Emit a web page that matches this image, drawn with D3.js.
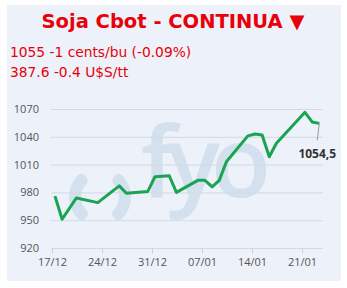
<!DOCTYPE html>
<html>
<head>
<meta charset="utf-8">
<script src="https://cdn.jsdelivr.net/npm/d3@7"></script>
<style>
  body { margin: 0; background: #fff; }
  svg { display: block; }
</style>
</head>
<body>
<div id="chart"></div>
<script>
// Soja Cbot continua - daily close, cents/bu
const dates = ["2018-12-17","2018-12-18","2018-12-20","2018-12-23","2018-12-26","2018-12-27",
  "2018-12-30","2018-12-31","2019-01-02","2019-01-03","2019-01-06","2019-01-07","2019-01-08",
  "2019-01-09","2019-01-10","2019-01-13","2019-01-14","2019-01-15","2019-01-16","2019-01-17",
  "2019-01-21","2019-01-22","2019-01-23"];
const prices = [976, 951, 974, 969, 987, 979, 981, 997, 998, 980, 993, 993, 986,
  993, 1013, 1041, 1043, 1042, 1018.5, 1033, 1066.4, 1056, 1054.5];
const yTicks = [920, 950, 980, 1010, 1040, 1070];
const xTicks = ["2018-12-17","2018-12-24","2018-12-31","2019-01-07","2019-01-14","2019-01-21"];
const title = "Soja Cbot - CONTINUA \u25BC";
const infoLines = ["1055 -1 cents/bu (-0.09%)", "387.6 -0.4 U$S/tt"];
const lastLabel = "1054,5";

const W = 347, H = 288;
const parseDay = d3.timeParse("%Y-%m-%d");
const data = dates.map((d, i) => ({ date: d3.timeHour.offset(parseDay(d), 10), value: prices[i] }));

let svg = d3.select("#chart").append("svg")
  .attr("width", W)
  .attr("height", H);

svg.append("rect").attr("width", W).attr("height", H).attr("fill", "#fff");

// panel
svg.append("rect")
  .attr("x", 7).attr("y", 5)
  .attr("width", 334).attr("height", 276)
  .attr("fill", "#edf1f9");

let plot = { left: 51, right: 323, top: 109, bottom: 248 };

let x = d3.scaleTime()
  .domain([parseDay(xTicks[0]), parseDay(xTicks[xTicks.length - 1])])
  .range([52, 302]);
let y = d3.scaleLinear()
  .domain([920, 1070])
  .range([plot.bottom, plot.top]);

// watermark
let wm = svg.append("g").attr("fill", "#d3e1ee");
let paren = d3.arc().innerRadius(19).outerRadius(31).cornerRadius(5);
wm.append("path")
  .attr("transform", "translate(100,197)")
  .attr("d", paren({ startAngle: -2.55, endAngle: -0.6 }));
wm.append("path")
  .attr("transform", "translate(100,197)")
  .attr("d", paren({ startAngle: 0.6, endAngle: 2.55 }));
wm.append("text")
  .attr("x", 141).attr("y", 197)
  .attr("font-family", "Open Sans")
  .attr("font-weight", 600)
  .attr("font-size", 98)
  .attr("letter-spacing", -9)
  .text("fyo");

// grid
svg.append("g")
  .selectAll("line")
  .data(yTicks)
  .enter().append("line")
    .attr("x1", plot.left).attr("x2", plot.right)
    .attr("y1", d => y(d) + 0.5).attr("y2", d => y(d) + 0.5)
    .attr("stroke", "#d5d9e0");

// y axis labels
svg.append("g")
  .selectAll("text")
  .data(yTicks)
  .enter().append("text")
    .attr("x", 39)
    .attr("y", d => y(d) + 4)
    .attr("text-anchor", "end")
    .attr("font-family", "Open Sans")
    .attr("font-size", 11)
    .attr("fill", "#555")
    .text(d => d);

// x axis
let xAxis = svg.append("g")
  .attr("transform", "translate(0," + (plot.bottom + 0.5) + ")")
  .call(d3.axisBottom(x)
    .tickValues(xTicks.map(parseDay))
    .tickFormat(d3.timeFormat("%d/%m"))
    .tickSize(5)
    .tickPadding(5));
xAxis.select(".domain").remove();
xAxis.selectAll(".tick line").attr("stroke", "#ccd1d9");
xAxis.selectAll(".tick text")
  .attr("font-family", "Open Sans")
  .attr("font-size", 11)
  .attr("fill", "#555");

// price line
let line = d3.line()
  .x(d => x(d.date))
  .y(d => y(d.value));

svg.append("path")
  .datum(data)
  .attr("fill", "none")
  .attr("stroke", "#19a451")
  .attr("stroke-width", 3)
  .attr("stroke-linejoin", "round")
  .attr("d", line);

// last value label
let last = data[data.length - 1];
svg.append("line")
  .attr("x1", x(last.date)).attr("y1", y(last.value))
  .attr("x2", x(last.date) - 2).attr("y2", y(last.value) + 17)
  .attr("stroke", "#999");
svg.append("text")
  .attr("x", x(last.date) - 2)
  .attr("y", y(last.value) + 35)
  .attr("text-anchor", "middle")
  .attr("font-family", "Open Sans")
  .attr("font-weight", "bold")
  .attr("font-size", 12)
  .attr("fill", "#333")
  .text(lastLabel);

// titles
svg.append("text")
  .attr("x", 173).attr("y", 28)
  .attr("text-anchor", "middle")
  .attr("font-family", "DejaVu Sans")
  .attr("font-weight", "bold")
  .attr("font-size", 19.5)
  .attr("fill", "#e8000b")
  .text(title);

svg.append("g")
  .selectAll("text")
  .data(infoLines)
  .enter().append("text")
    .attr("x", 10)
    .attr("y", (d, i) => 57 + i * 20)
    .attr("font-family", "DejaVu Sans")
    .attr("font-size", 13.8)
    .attr("fill", "#e8000b")
    .text(d => d);
</script>
</body>
</html>
